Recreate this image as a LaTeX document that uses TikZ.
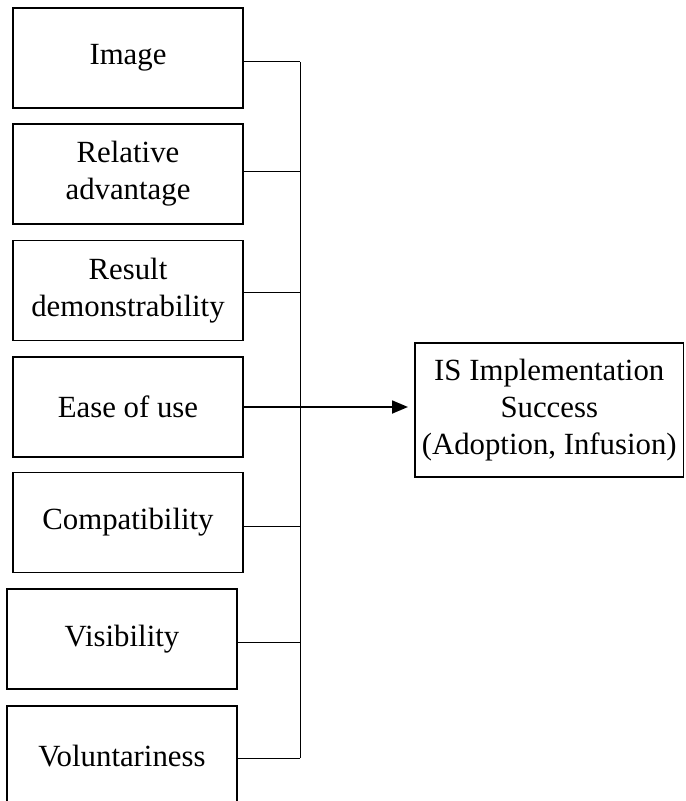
\documentclass[tikz,border=0pt]{standalone}
\usepackage{fontspec}
\setmainfont{Liberation Serif}
\usetikzlibrary{arrows.meta}
\begin{document}
\begin{tikzpicture}[x=0.5pt,y=-0.5pt,
  factor/.style={draw, line width=0.8pt, minimum width=115pt, minimum height=50pt,
    inner sep=0pt, outer sep=0pt, align=center,
    font=\fontsize{15.4pt}{18.5pt}\selectfont},
  outcome/.style={draw, line width=0.8pt, minimum width=134.25pt, minimum height=67pt,
    inner sep=0pt, outer sep=0pt, align=center,
    font=\fontsize{15.4pt}{18.5pt}\selectfont},
  link/.style={line width=0.5pt},
  mainarrow/.style={line width=0.9pt, -{Triangle[length=8pt,width=6.5pt]}}]
  \clip (0,0) rectangle (685,801);

  % innovation attributes
  \node[factor] (img)  at (128,58)    {Image};
  \node[factor] (rel)  at (128,174)   {Relative\\advantage};
  \node[factor] (res)  at (128,290.5) {Result\\demonstrability};
  \node[factor] (ease) at (128,407)   {Ease of use};
  \node[factor] (comp) at (128,522.5) {Compatibility};
  \node[factor] (vis)  at (122,639)   {Visibility};
  \node[factor] (vol)  at (122,756)   {Voluntariness};

  % outcome
  \node[outcome] (succ) at (549.25,410) {IS Implementation\\Success\\(Adoption, Infusion)};

  % collecting bus
  \coordinate (btop) at (300,62);
  \coordinate (bbot) at (300,758);
  \draw[link] (btop) -- (bbot);
  \draw[link] (img.east |- btop) -- (btop);
  \draw[link] (rel.east |- 0,172) -- (btop |- 0,172);
  \draw[link] (res.east |- 0,293) -- (btop |- 0,293);
  \draw[link] (comp.east |- 0,526) -- (btop |- 0,526);
  \draw[link] (vis.east |- 0,642) -- (btop |- 0,642);
  \draw[link] (vol.east |- bbot) -- (bbot);

  % arrow into the outcome
  \draw[mainarrow, shorten >=3.5pt] (ease.east) -- (ease.east -| succ.west);
\end{tikzpicture}
\end{document}
